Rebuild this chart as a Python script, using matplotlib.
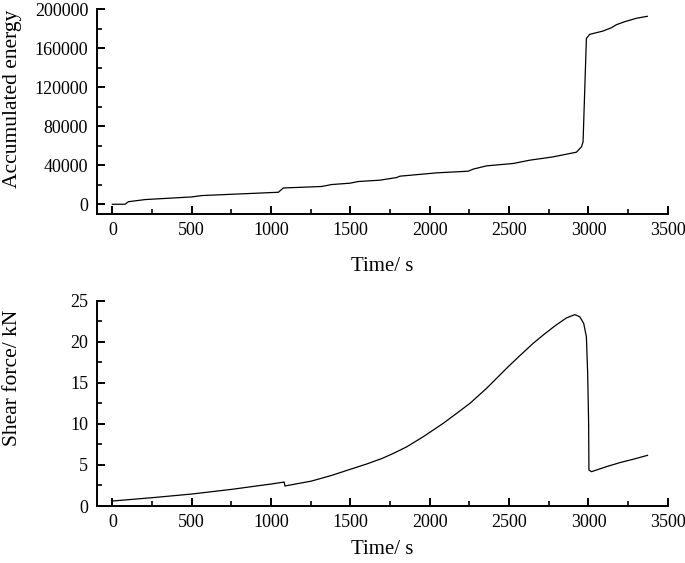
import numpy as np
import matplotlib.pyplot as plt
from matplotlib.ticker import MultipleLocator

plt.rcParams['font.family'] = ['Liberation Serif', 'DejaVu Serif']

# accumulated energy vs time
t_energy = [0, 80, 101, 206, 500, 563, 1046, 1077, 1318, 1381, 1497, 1549, 1686,
            1791, 1812, 2043, 2242, 2273, 2358, 2525, 2630, 2777, 2924, 2956,
            2966, 2987, 3008, 3092, 3145, 3176, 3229, 3302, 3371]
energy = [0, 0, 2600, 4800, 7500, 8900, 12300, 16700, 18200, 20200, 21600, 23300,
          24700, 27400, 28800, 32200, 33900, 36000, 39400, 41800, 45200, 48600,
          53400, 58900, 64000, 170200, 174300, 177700, 181100, 184200, 187300,
          190800, 192800]

# shear force vs time
t_force = [0, 248, 500, 752, 1000, 1083, 1087, 1255, 1380, 1497, 1600, 1700,
           1770, 1854, 1959, 2085, 2169, 2253, 2358, 2494, 2567, 2651, 2720,
           2790, 2861, 2914, 2945, 2970, 2987, 2995, 3001, 3003, 3019, 3113,
           3197, 3281, 3372]
force = [0.61, 1.01, 1.46, 2.03, 2.68, 2.92, 2.44, 3.04, 3.72, 4.46, 5.1, 5.8,
         6.4, 7.2, 8.44, 10.07, 11.28, 12.5, 14.33, 16.96, 18.3, 19.8, 20.9,
         21.95, 22.9, 23.3, 23.05, 22.24, 20.6, 16.15, 10.07, 4.38, 4.18, 4.79,
         5.28, 5.69, 6.17]

fig = plt.figure(figsize=(6.85, 5.63), dpi=100)
ax1 = fig.add_axes([0.1409, 0.6199, 0.834, 0.3636])
ax2 = fig.add_axes([0.1409, 0.1012, 0.834, 0.3647])

ax1.plot(t_energy, energy, color='black', lw=0.9)
ax2.plot(t_force, force, color='black', lw=0.9)

ax1.set_xlim(-100, 3500)
ax1.set_ylim(-10000, 200000)
ax1.yaxis.set_major_locator(MultipleLocator(40000))
ax1.yaxis.set_minor_locator(MultipleLocator(20000))
ax2.set_xlim(-100, 3500)
ax2.set_ylim(0, 25)
ax2.yaxis.set_major_locator(MultipleLocator(5))
ax2.yaxis.set_minor_locator(MultipleLocator(2.5))

for ax in (ax1, ax2):
    ax.xaxis.set_major_locator(MultipleLocator(500))
    ax.xaxis.set_minor_locator(MultipleLocator(250))
    ax.spines['top'].set_visible(False)
    ax.spines['right'].set_visible(False)
    ax.spines['left'].set_linewidth(1.4)
    ax.spines['bottom'].set_linewidth(1.4)
    ax.tick_params(which='major', direction='in', length=6, width=1.4,
                   labelsize=13, pad=6)
    ax.tick_params(which='minor', direction='in', length=3.5, width=1.2)

ax1.set_xlabel('Time/ s', fontsize=15, labelpad=13)
ax2.set_xlabel('Time/ s', fontsize=15, labelpad=6)
ax1.set_ylabel('Accumulated energy', fontsize=15.5)
ax1.yaxis.set_label_coords(-0.13, 0.562)
ax2.set_ylabel('Shear force/ kN', fontsize=15.5)
ax2.yaxis.set_label_coords(-0.13, 0.625)

fig.savefig('out.png', dpi=100)
